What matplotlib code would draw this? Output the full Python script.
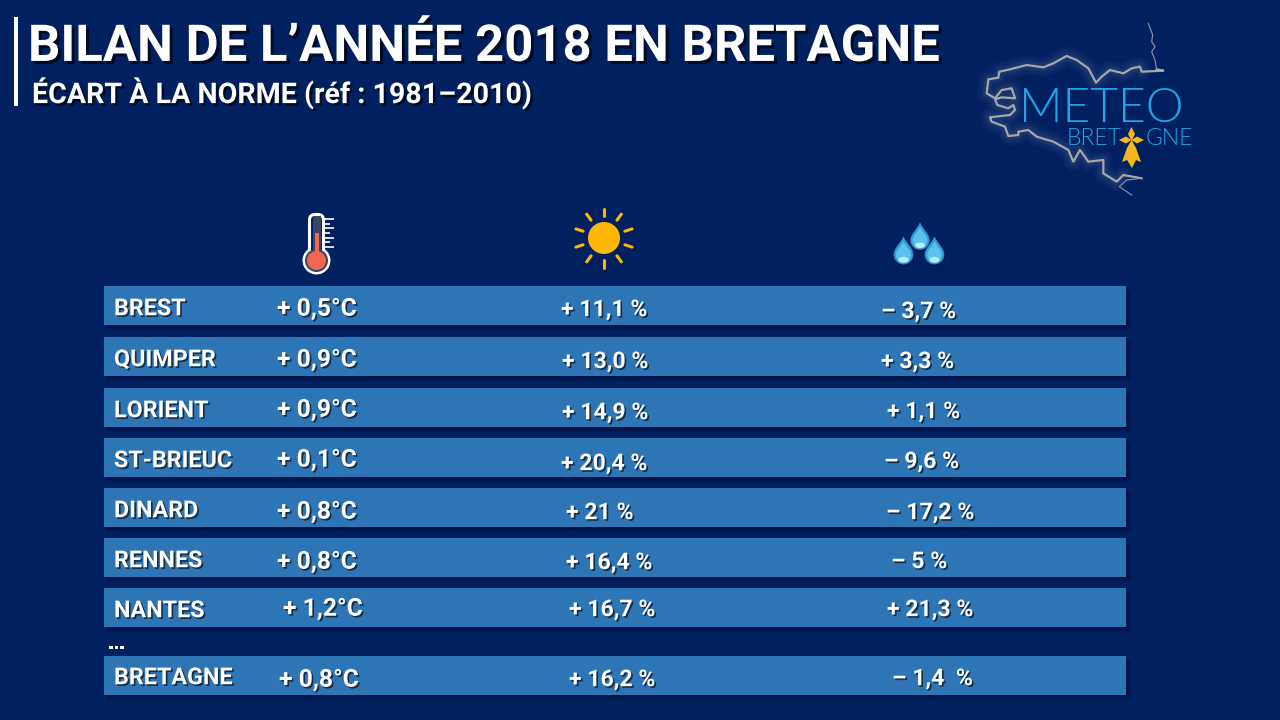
import matplotlib
matplotlib.use('Agg')
import matplotlib.pyplot as plt
import matplotlib.patheffects as pe
from matplotlib.patches import Rectangle, Circle, Ellipse, FancyBboxPatch, PathPatch, Polygon
from matplotlib.path import Path
from matplotlib.transforms import Affine2D
import numpy as np

stations = ['BREST', 'QUIMPER', 'LORIENT', 'ST-BRIEUC', 'DINARD', 'RENNES', 'NANTES', 'BRETAGNE']
temp_labels = ['+ 0,5°C', '+ 0,9°C', '+ 0,9°C', '+ 0,1°C', '+ 0,8°C', '+ 0,8°C', '+ 1,2°C', '+ 0,8°C']
sun_labels = ['+ 11,1 %', '+ 13,0 %', '+ 14,9 %', '+ 20,4 %', '+ 21 %', '+ 16,4 %', '+ 16,7 %', '+ 16,2 %']
rain_labels = ['– 3,7 %', '+ 3,3 %', '+ 1,1 %', '– 9,6 %', '– 17,2 %', '– 5 %', '+ 21,3 %', '– 1,4  %']

# layout, in pixels of the slide
bar_top = [286, 337, 388, 438, 488, 538, 588, 656]
name_y = [307, 358, 409, 459, 509, 559, 609, 676]
temp_x = [277, 277, 277, 277, 277, 277, 283, 279]
temp_y = [307, 358, 408, 458, 510, 560, 607, 678]
sun_x = [561, 562, 562, 561, 566, 566, 569, 569]
sun_y = [308, 360, 411, 462, 511, 561, 608, 678]
rain_x = [881, 881, 887, 884, 886, 891, 887, 892]
rain_y = [310, 360, 410, 460, 511, 560, 608, 677]

BG = '#012060'
BAR = '#2E75B6'
FONT = ['Roboto', 'DejaVu Sans']
LOGO_FONT = ['Lato', 'DejaVu Sans']
LOGO_BLUE = '#22A5E4'

fig = plt.figure(figsize=(12.8, 7.2), dpi=100, facecolor=BG)
ax = fig.add_axes([0, 0, 1, 1])
ax.set_xlim(0, 1280)
ax.set_ylim(720, 0)
ax.axis('off')


def shadow(dist=1.5, alpha=0.6):
    return [pe.SimplePatchShadow(offset=(dist, -dist), shadow_rgbFace='black', alpha=alpha), pe.Normal()]


def label(x, y, s, size, dist=1.2):
    # y is the middle of the capitals
    ax.text(x, y + size * 0.49, s, color='white', fontsize=size, fontweight='bold', family=FONT,
            va='baseline', ha='left', path_effects=shadow(dist), zorder=6)


# title
ax.add_patch(Rectangle((14, 17), 3.5, 89, color='white', lw=0))
label(28, 43, 'BILAN DE L’ANNÉE 2018 EN BRETAGNE', 36.6, 2.2)
label(32, 93, 'ÉCART À LA NORME (réf : 1981–2010)', 20.6, 1.8)

# rows
for i, name in enumerate(stations):
    h = 38.7
    for k in range(5, 0, -1):
        ax.add_patch(Rectangle((104 + k * 0.5, bar_top[i] + k), 1022 + k * 0.5, h, color='#000a30', alpha=0.14, lw=0, zorder=2))
    ax.add_patch(Rectangle((104, bar_top[i]), 1022, h, color=BAR, lw=0, zorder=3))
    label(114, name_y[i], name, 16.8)
    label(temp_x[i], temp_y[i], temp_labels[i], 17.8)
    label(sun_x[i], sun_y[i], sun_labels[i], 16.6)
    label(rain_x[i], rain_y[i], rain_labels[i], 16.6)
for x in (109, 114.5, 120):
    ax.add_patch(Rectangle((x, 645.5), 3.6, 3.6, color='white', lw=0, zorder=6))

# thermometer
ax.add_patch(Circle((318, 262), 13.5, color='#000a30', alpha=0.35, lw=0))
ax.add_patch(Circle((316.5, 260.5), 14, color='white', lw=0))
ax.add_patch(FancyBboxPatch((312, 217), 9, 40, boxstyle='round,pad=2.5,rounding_size=5.5', fc=BG, ec='white', lw=2.2, zorder=3))
ax.add_patch(Circle((316.5, 260.5), 11.5, color='#3A4468', lw=0, zorder=4))
ax.add_patch(Rectangle((312.5, 216), 8, 44, color='#3A4468', lw=0, zorder=4))
ax.add_patch(Rectangle((314.5, 233), 4.5, 25, color='#F2654F', lw=0, zorder=5))
ax.add_patch(Circle((316.5, 260.5), 9.5, color='#F2654F', lw=0, zorder=5))
for y, w in zip(np.linspace(219, 247, 7), [9.5, 6, 9.5, 6, 9.5, 6, 9.5]):
    ax.plot([324, 324 + w], [y, y], color='white', lw=1.2, solid_capstyle='butt', zorder=4)

# sun
ax.add_patch(Circle((604, 238), 16, color='#FDB604', lw=0, zorder=4))
for a in np.arange(0, 360, 36) + 18:
    t = np.radians(a)
    ax.plot([604 + 22 * np.cos(t), 604 + 29.5 * np.cos(t)], [238 + 22 * np.sin(t), 238 + 29.5 * np.sin(t)],
            color='#FDB604', lw=2.2, solid_capstyle='round', zorder=4)


# drops
def drop(cx, tip, r):
    cy = tip + 1.85 * r
    k = 0.55 * r
    verts = [(cx, tip), (cx + 0.25 * r, cy - 1.2 * r), (cx + r, cy - 0.7 * r), (cx + r, cy),
             (cx + r, cy + k), (cx + k, cy + r), (cx, cy + r),
             (cx - k, cy + r), (cx - r, cy + k), (cx - r, cy),
             (cx - r, cy - 0.7 * r), (cx - 0.25 * r, cy - 1.2 * r), (cx, tip), (cx, tip)]
    codes = [Path.MOVETO] + [Path.CURVE4] * 12 + [Path.CLOSEPOLY]
    ax.add_patch(PathPatch(Path(verts, codes), fc='#000a30', alpha=0.3, lw=0,
                           transform=Affine2D().translate(2, 3) + ax.transData))
    ax.add_patch(PathPatch(Path(verts, codes), fc='#2E9FD6', ec='#2C8FC6', lw=0.5, zorder=4))
    scaled = [(cx + (x - cx) * 0.78, cy + (y - cy) * 0.78 + 0.3) for x, y in verts]
    ax.add_patch(PathPatch(Path(scaled, codes), fc='#5CC2EC', lw=0, zorder=5))
    ax.add_patch(Ellipse((cx, cy + 0.55 * r), 1.1 * r, 0.6 * r, color='#BCE9F8', lw=0, zorder=6))


drop(920, 223, 9.3)
drop(903.5, 237, 9.5)
drop(934.5, 237, 9.5)

# logo: outline of Brittany
coast = [(565, 40), (578, 75), (575, 95), (585, 110), (575, 125), (585, 150), (590, 178), (610, 182), (545, 185),
         (540, 170), (515, 175), (490, 190), (450, 180), (425, 200), (408, 218), (385, 175), (350, 150), (320, 138),
         (280, 160), (250, 172), (200, 165), (150, 178), (118, 185), (115, 203), (85, 208), (80, 250), (105, 265),
         (125, 240), (155, 235), (165, 265), (125, 262), (105, 268), (112, 285), (145, 295), (160, 285), (165, 300),
         (150, 315), (90, 322), (95, 335), (135, 350), (145, 378), (175, 375), (175, 365), (205, 360), (230, 380),
         (280, 395), (325, 420), (340, 455), (360, 420), (385, 455), (430, 450), (430, 490), (470, 515), (490, 495),
         (545, 505), (500, 510), (478, 530), (515, 555)]
cx = [960 + p[0] / 3 for p in coast]
cy = [10 + p[1] / 3 for p in coast]
for lw, a in ((14, 0.03), (10, 0.04), (6, 0.06)):
    ax.plot(cx[8:54], cy[8:54], color='#cfd6e6', lw=lw, alpha=a, solid_capstyle='round', zorder=2)
ax.plot(cx[6:55], cy[6:55], color='#A6A6A6', lw=1.6, zorder=3, solid_joinstyle='round')
ax.plot(cx[:7], cy[:7], color='#8F96A8', lw=0.8, zorder=3)
ax.plot(cx[54:], cy[54:], color='#8F96A8', lw=0.8, zorder=3)

ax.text(1019, 122.5, 'METEO', color=LOGO_BLUE, fontsize=34.5, family=LOGO_FONT, fontweight=300, va='baseline', zorder=5)
ax.text(1067, 145, 'BRET', color=LOGO_BLUE, fontsize=16.5, family=LOGO_FONT, fontweight=300, va='baseline', zorder=5)
ax.text(1146, 145, 'GNE', color=LOGO_BLUE, fontsize=16.5, family=LOGO_FONT, fontweight=300, va='baseline', zorder=5)

# hermine
gold = '#F5B71E'
ax.add_patch(Polygon([(1131.5, 127), (1135, 134), (1131.5, 141), (1128, 134)], color=gold, lw=0, zorder=5))
ax.add_patch(Polygon([(1119, 140), (1126, 136.5), (1131.5, 140), (1126, 143.5)], color=gold, lw=0, zorder=5))
ax.add_patch(Polygon([(1144, 140), (1137, 136.5), (1131.5, 140), (1137, 143.5)], color=gold, lw=0, zorder=5))
ax.add_patch(Polygon([(1131.5, 140), (1136, 148), (1141, 162), (1136, 160), (1132, 168), (1127, 160), (1122, 162), (1127, 148)],
                     color=gold, lw=0, zorder=5))

fig.savefig('out.png', dpi=100, facecolor=BG)
